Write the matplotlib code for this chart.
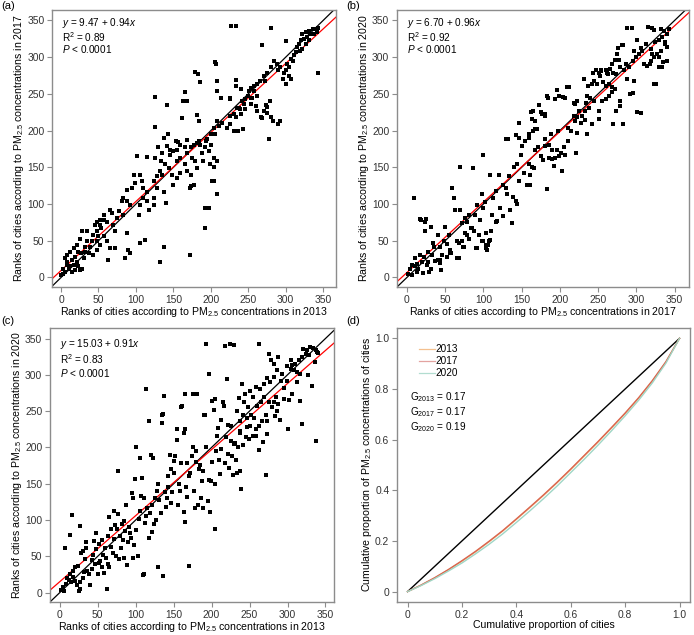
import matplotlib
matplotlib.use("Agg")
import matplotlib.pyplot as plt
import numpy as np

plt.rcParams['font.family'] = ['Liberation Sans', 'DejaVu Sans']
plt.rcParams['mathtext.fontset'] = 'custom'
plt.rcParams['mathtext.rm'] = 'Liberation Sans'
plt.rcParams['mathtext.it'] = 'Liberation Sans:italic'

# ---- panel (a): ranks 2013 vs 2017 ----
a_pts = [
    (0, 3), (2, 5), (3, 12), (5, 8), (5, 26), (8, 17), (8, 31), (8, 21), (10, 12), (12, 15), (12, 35),
    (14, 8), (14, 24), (17, 17), (17, 40), (19, 10), (19, 28), (21, 21), (21, 44), (23, 15), (23, 35),
    (25, 10), (25, 53), (27, 33), (28, 12), (28, 63), (30, 26), (32, 35), (32, 42), (34, 49), (34, 63),
    (37, 33), (39, 42), (41, 49), (43, 31), (43, 58), (46, 72), (48, 37), (48, 49), (48, 63), (48, 76),
    (50, 56), (52, 44), (52, 72), (52, 78), (54, 67), (57, 56), (57, 78), (57, 85), (61, 50), (61, 76),
    (63, 24), (66, 40), (66, 92), (68, 88), (70, 72), (72, 40), (72, 63), (75, 81), (77, 91), (81, 104),
    (83, 85), (83, 108), (86, 26), (88, 60), (88, 104), (88, 119), (90, 37), (92, 33), (92, 99), (95, 122),
    (97, 140), (99, 129), (101, 166), (104, 85), (105, 99), (106, 47), (106, 140), (108, 131), (110, 108),
    (110, 122), (112, 51), (115, 104), (115, 117), (115, 164), (117, 92), (124, 99), (124, 108), (124, 131),
    (126, 163), (126, 205), (126, 246), (128, 122), (128, 138), (130, 177), (132, 21), (132, 145), (133, 158),
    (135, 140), (135, 170), (137, 42), (137, 117), (137, 190), (139, 154), (140, 101), (141, 179), (141, 235),
    (144, 149), (146, 167), (148, 140), (150, 126), (150, 172), (154, 186), (155, 135), (155, 158), (159, 142),
    (159, 163), (159, 181), (163, 240), (165, 154), (165, 252), (168, 145), (168, 170), (168, 240), (172, 31),
    (172, 122), (173, 140), (173, 177), (174, 124), (175, 163), (177, 126), (177, 181), (179, 158), (179, 280),
    (182, 149), (182, 183), (183, 277), (184, 186), (185, 266), (186, 181), (188, 170), (190, 158), (192, 67),
    (192, 95), (192, 177), (193, 186), (195, 189), (197, 172), (198, 95), (199, 154), (200, 181), (200, 195),
    (202, 131), (204, 131), (204, 151), (204, 163), (204, 204), (205, 294), (206, 196), (207, 291), (208, 113),
    (208, 159), (208, 213), (208, 254), (208, 268), (211, 206), (213, 245), (215, 211), (222, 204), (225, 244),
    (226, 209), (226, 220), (227, 343), (231, 200), (231, 222), (233, 218), (233, 261), (234, 269), (234, 342),
    (236, 199), (238, 231), (240, 222), (240, 256), (241, 240), (243, 202), (244, 236), (246, 229), (246, 243),
    (249, 247), (251, 254), (253, 236), (253, 245), (253, 258), (258, 254), (258, 261), (260, 234), (262, 247),
    (262, 263), (266, 268), (268, 217), (268, 317), (271, 227), (271, 274), (273, 268), (275, 224), (275, 232),
    (275, 279), (278, 188), (280, 218), (281, 286), (281, 340), (283, 213), (284, 295), (288, 291), (290, 209),
    (290, 282), (292, 213), (293, 286), (296, 270), (298, 279), (300, 264), (300, 322), (301, 282), (302, 291),
    (304, 286), (305, 275), (307, 270), (307, 298), (310, 295), (311, 303), (314, 307), (315, 314), (318, 318),
    (319, 309), (320, 323), (322, 311), (322, 332), (324, 325), (327, 318), (327, 334), (329, 327), (331, 323),
    (331, 336), (333, 332), (336, 338), (338, 332), (340, 338), (342, 334), (343, 279), (343, 340),
    (161, 217), (182, 221), (184, 213), (143, 196), (168, 187), (156, 184), (145, 174), (155, 173), (165, 177),
    (226, 243), (235, 231), (239, 230), (255, 244), (261, 227), (267, 219), (274, 235), (279, 240),
]

# ---- panel (b): ranks 2017 vs 2020 ----
b_pts = [
    (2, 5), (4, 12), (7, 3), (7, 17), (9, 108), (10, 15), (11, 26), (13, 8), (13, 19), (15, 12), (17, 31),
    (19, 78), (20, 21), (22, 28), (23, 63), (24, 76), (26, 17), (28, 21), (28, 35), (29, 8), (31, 12), (33, 31),
    (35, 42), (37, 22), (40, 58), (43, 24), (44, 10), (46, 31), (48, 49), (50, 69), (52, 46), (55, 58), (56, 37),
    (57, 33), (59, 122), (61, 108), (63, 92), (65, 49), (68, 26), (69, 151), (70, 92), (72, 49), (72, 74),
    (74, 42), (76, 81), (79, 58), (81, 53), (81, 85), (84, 67), (85, 67), (87, 149), (89, 85), (90, 40),
    (92, 40), (92, 99), (94, 58), (96, 78), (98, 113), (99, 49), (99, 167), (100, 94), (102, 103), (104, 61),
    (105, 37), (106, 44), (108, 51), (109, 140), (111, 85), (113, 108), (116, 118), (118, 77), (120, 140),
    (122, 95), (125, 126), (129, 122), (131, 113), (132, 188), (133, 138), (135, 92), (137, 74), (139, 110),
    (140, 150), (143, 104), (144, 154), (146, 131), (146, 190), (149, 167), (151, 179), (153, 142), (155, 186),
    (157, 126), (159, 155), (159, 195), (161, 126), (161, 140), (163, 150), (164, 216), (165, 200), (165, 227),
    (166, 149), (168, 174), (168, 213), (170, 202), (172, 177), (175, 165), (175, 225), (178, 160), (180, 220),
    (181, 179), (181, 222), (183, 120), (183, 247), (186, 163), (186, 181), (188, 195), (190, 161), (190, 174),
    (192, 152), (194, 163), (194, 243), (196, 174), (196, 255), (199, 165), (199, 247), (201, 170), (203, 145),
    (205, 177), (207, 167), (207, 245), (210, 186), (212, 260), (215, 200), (218, 220), (220, 213), (220, 236),
    (221, 170), (222, 197), (222, 240), (223, 218), (225, 227), (227, 211), (229, 220), (233, 215), (233, 227),
    (234, 238), (236, 195), (236, 247), (238, 231), (240, 245), (242, 209), (242, 263), (244, 240), (244, 268),
    (247, 282), (249, 263), (251, 216), (251, 227), (251, 279), (253, 275), (254, 281), (255, 240), (256, 266),
    (260, 243), (260, 261), (260, 282), (263, 277), (264, 247), (264, 263), (266, 284), (268, 252), (268, 259),
    (268, 291), (270, 209), (270, 279), (272, 256), (272, 296), (274, 227), (275, 304), (276, 312), (277, 296),
    (278, 234), (279, 240), (279, 286), (281, 316), (282, 209), (284, 282), (286, 291), (288, 270), (294, 340),
    (295, 251), (295, 295), (297, 268), (299, 300), (301, 323), (303, 304), (306, 224), (306, 313), (308, 309),
    (310, 291), (312, 318), (314, 288), (319, 295), (319, 311), (320, 340), (321, 304), (323, 300), (323, 337),
    (325, 320), (326, 263), (327, 304), (330, 300), (330, 323), (332, 309), (332, 339), (333, 286), (334, 327),
    (336, 336), (337, 318), (338, 320), (340, 295), (340, 314), (340, 332), (343, 339),
    (21, 6), (41, 24), (43, 20), (52, 28), (56, 33), (65, 26), (73, 42), (68, 47), (103, 40), (104, 44),
    (107, 49), (98, 49), (78, 75), (88, 63), (110, 63), (116, 76), (126, 84), (138, 74), (144, 100), (76, 60),
    (43, 42), (34, 47), (32, 69), (24, 63), (17, 80), (25, 79),
    (162, 226), (146, 211), (173, 235), (176, 222), (185, 245), (209, 260), (204, 246), (219, 238), (232, 270),
    (237, 261), (243, 279), (254, 282), (262, 279), (228, 211), (211, 204), (198, 199), (181, 188), (167, 202),
    (159, 190), (130, 188), (142, 194), (292, 250), (301, 225), (323, 264), (329, 286), (318, 291), (335, 294),
    (283, 316), (297, 309), (290, 286), (273, 277), (288, 340), (315, 341),
]

# ---- panel (c): ranks 2013 vs 2020 ----
c_pts = [
    (2, 3), (4, 8), (5, 2), (7, 61), (8, 12), (10, 20), (12, 17), (13, 79), (14, 25), (15, 14), (16, 107),
    (17, 22), (18, 30), (20, 35), (20, 16), (22, 10), (24, 37), (25, 2), (26, 5), (26, 91), (27, 15), (28, 54),
    (30, 20), (30, 57), (32, 28), (33, 46), (34, 62), (35, 69), (36, 30), (38, 26), (40, 11), (42, 45), (43, 33),
    (44, 52), (45, 71), (46, 40), (48, 60), (48, 82), (50, 25), (51, 41), (52, 67), (53, 44), (55, 35), (56, 72),
    (57, 52), (58, 27), (60, 61), (61, 48), (62, 5), (63, 40), (64, 78), (65, 35), (65, 104), (67, 88), (68, 63),
    (70, 55), (71, 112), (72, 74), (73, 93), (74, 50), (75, 88), (76, 108), (77, 167), (78, 46), (79, 78),
    (80, 62), (82, 95), (83, 72), (84, 98), (85, 48), (86, 85), (87, 121), (88, 38), (90, 70), (91, 90), (92, 82),
    (94, 75), (95, 137), (96, 130), (97, 47), (98, 65), (99, 157), (100, 200), (101, 86), (103, 51), (104, 102),
    (105, 112), (106, 185), (107, 133), (108, 158), (110, 24), (111, 26), (111, 130), (112, 96), (113, 105),
    (114, 280), (115, 116), (117, 236), (118, 75), (119, 110), (120, 190), (121, 84), (122, 120), (123, 185),
    (124, 94), (125, 130), (127, 100), (128, 140), (130, 35), (130, 150), (131, 127), (133, 110), (134, 234),
    (135, 245), (136, 23), (136, 246), (137, 271), (138, 138), (140, 118), (141, 130), (142, 160), (143, 145),
    (145, 190), (146, 170), (147, 123), (148, 138), (150, 181), (151, 165), (152, 188), (154, 210), (155, 225),
    (156, 120), (157, 150), (158, 140), (159, 178), (160, 255), (161, 257), (163, 111), (164, 220), (165, 97),
    (165, 225), (165, 274), (166, 145), (167, 178), (168, 132), (170, 37), (170, 160), (172, 165), (174, 188),
    (175, 200), (176, 273), (177, 140), (178, 117), (179, 195), (180, 180), (181, 273), (182, 120), (183, 170),
    (185, 176), (186, 130), (187, 153), (188, 116), (189, 167), (190, 245), (191, 245), (192, 342), (193, 200),
    (195, 126), (196, 155), (197, 301), (198, 111), (199, 153), (200, 180), (201, 264), (203, 251), (204, 88),
    (204, 267), (205, 150), (206, 195), (207, 215), (208, 227), (210, 182), (211, 163), (212, 238), (213, 198),
    (215, 263), (216, 257), (217, 178), (218, 340), (219, 214), (220, 294), (221, 191), (222, 231), (223, 172),
    (224, 343), (225, 209), (226, 230), (227, 188), (228, 162), (229, 341), (230, 204), (231, 206), (232, 183),
    (233, 165), (234, 250), (235, 200), (236, 268), (237, 222), (238, 167), (238, 220), (238, 236), (239, 143),
    (240, 288), (241, 245), (242, 203), (243, 262), (244, 274), (245, 214), (246, 228), (247, 241), (248, 255),
    (249, 211), (250, 230), (251, 278), (252, 245), (254, 216), (255, 269), (256, 240), (258, 216), (258, 283),
    (259, 225), (260, 257), (262, 196), (262, 229), (263, 342), (264, 281), (265, 262), (266, 236), (268, 207),
    (269, 269), (269, 288), (271, 162), (272, 245), (273, 218), (273, 236), (273, 295), (275, 263), (276, 329),
    (277, 290), (278, 320), (280, 255), (282, 263), (282, 297), (282, 315), (283, 243), (285, 270), (286, 250),
    (286, 306), (288, 260), (288, 325), (290, 238), (291, 292), (293, 301), (295, 267), (296, 282), (299, 292),
    (299, 312), (301, 225), (302, 265), (304, 308), (304, 320), (306, 274), (306, 313), (308, 306), (310, 315),
    (312, 290), (313, 304), (315, 320), (317, 264), (317, 301), (319, 232), (319, 325), (321, 336), (324, 329),
    (326, 334), (327, 300), (328, 327), (330, 338), (332, 285), (334, 337), (336, 318), (337, 334), (338, 209),
    (339, 331), (340, 330),
]

# regression fits shown in the panels (intercept, slope, R2)
fits = [(9.47, 0.94, '0.89'), (6.70, 0.96, '0.92'), (15.03, 0.91, '0.83')]
xyears = ['2013', '2017', '2013']
yyears = ['2017', '2020', '2020']

# ---- panel (d): Lorenz curves ----
lorenz_x = [0.0, 0.05, 0.1, 0.15, 0.2, 0.25, 0.3, 0.35, 0.4, 0.45, 0.5,
            0.55, 0.6, 0.65, 0.7, 0.75, 0.8, 0.85, 0.9, 0.95, 1.0]
lorenz_2013 = [0.0, 0.025, 0.054, 0.086, 0.120, 0.157, 0.197, 0.239, 0.285, 0.332, 0.380,
               0.430, 0.482, 0.536, 0.590, 0.646, 0.703, 0.764, 0.831, 0.906, 1.0]
lorenz_2017 = [0.0, 0.026, 0.055, 0.087, 0.122, 0.159, 0.199, 0.241, 0.287, 0.334, 0.382,
               0.432, 0.484, 0.538, 0.592, 0.648, 0.705, 0.766, 0.833, 0.908, 1.0]
lorenz_2020 = [0.0, 0.024, 0.051, 0.081, 0.113, 0.149, 0.187, 0.228, 0.273, 0.319, 0.367,
               0.417, 0.470, 0.523, 0.578, 0.635, 0.694, 0.756, 0.824, 0.902, 1.0]
gini = [('2013', '0.17'), ('2017', '0.17'), ('2020', '0.19')]
lorenz_colors = ['#F2B47C', '#D9654F', '#9FD6C6']
legend_colors = ['#F4C08F', '#E3A3A0', '#B2DDD0']

SPINE = '#8c8c8c'
TICKC = '#333333'
LABEL_FS = 7.6
TICK_FS = 7.4
NOTE_FS = 7.2

fig = plt.figure(figsize=(6.94, 6.35), dpi=100)
boxes = [
    [0.075, 0.548, 0.409, 0.436],
    [0.572, 0.548, 0.421, 0.436],
    [0.072, 0.052, 0.409, 0.4315],
    [0.572, 0.052, 0.422, 0.4315],
]
lims = [
    ((-12, 367), (-13, 364)),
    ((-13, 369), (-13, 364)),
    ((-13, 361), (-13, 364.5)),
]
# vertical positions (axes fraction) of the three annotation lines
note_y = [
    (0.952, 0.904, 0.858),
    (0.952, 0.904, 0.858),
    (0.943, 0.887, 0.834),
]


def style_axes(ax):
    for s in ax.spines.values():
        s.set_color(SPINE)
        s.set_linewidth(1.0)
    ax.tick_params(direction='out', length=3.5, width=0.8, color=SPINE,
                   labelcolor=TICKC, labelsize=TICK_FS, pad=2)


axes = [fig.add_axes(b) for b in boxes]
for i, pts in enumerate([a_pts, b_pts, c_pts]):
    ax = axes[i]
    arr = np.array(pts)
    ax.scatter(arr[:, 0], arr[:, 1], s=6, marker='s', color='black', linewidths=0, zorder=3)
    ax.axline((0, 0), slope=1, color='black', lw=0.9, zorder=2)
    b0, b1, r2 = fits[i]
    ax.axline((0, b0), slope=b1, color='red', lw=0.9, zorder=2)
    ax.set_xlim(*lims[i][0])
    ax.set_ylim(*lims[i][1])
    ax.set_xticks(np.arange(0, 351, 50))
    ax.set_yticks(np.arange(0, 351, 50))
    style_axes(ax)
    ax.set_xlabel('Ranks of cities according to PM$_{2.5}$ concentrations in ' + xyears[i],
                  fontsize=LABEL_FS, labelpad=0.5)
    ax.set_ylabel('Ranks of cities according to PM$_{2.5}$ concentrations in ' + yyears[i],
                  fontsize=LABEL_FS, labelpad=0.5)
    lines = ['$y$ = %.2f + %.2f$x$' % (b0, b1), 'R$^2$ = %s' % r2, '$P$ < 0.0001']
    for line, yy in zip(lines, note_y[i]):
        ax.text(0.034, yy, line, transform=ax.transAxes, ha='left', va='center',
                fontsize=NOTE_FS)

ax = axes[3]
ax.plot([0, 1], [0, 1], color='black', lw=1.0)
for yr, ys, c in zip(['2013', '2017', '2020'], [lorenz_2013, lorenz_2017, lorenz_2020], lorenz_colors):
    ax.plot(lorenz_x, ys, color=c, lw=1.0, label=yr)
ax.set_xlim(-0.039, 1.038)
ax.set_ylim(-0.041, 1.041)
ax.set_xticks([0, 0.2, 0.4, 0.6, 0.8, 1.0])
ax.set_xticklabels(['0', '0.2', '0.4', '0.6', '0.8', '1.0'])
ax.set_yticks([0, 0.2, 0.4, 0.6, 0.8, 1.0])
ax.set_yticklabels(['0', '0.2', '0.4', '0.6', '0.8', '1.0'])
style_axes(ax)
ax.set_xlabel('Cumulative proportion of cities', fontsize=LABEL_FS, labelpad=0.5)
ax.set_ylabel('Cumulative proportion of PM$_{2.5}$ concentrations of cities',
              fontsize=LABEL_FS, labelpad=0.5)
leg = ax.legend(loc='upper left', bbox_to_anchor=(0.06, 0.955), frameon=False, fontsize=NOTE_FS,
                handlelength=1.6, handletextpad=0.1, labelspacing=0.2, borderaxespad=0)
for h, c in zip(leg.legend_handles, legend_colors):
    h.set_linewidth(0.9)
    h.set_color(c)
for (yr, g), yy in zip(gini, (0.748, 0.693, 0.639)):
    ax.text(0.045, yy, 'G$_{%s}$ = %s' % (yr, g), transform=ax.transAxes, ha='left', va='center',
            fontsize=NOTE_FS)

for lab, (x, y) in zip(['(a)', '(b)', '(c)', '(d)'],
                       [(0.002, 0.998), (0.499, 0.998), (0.002, 0.502), (0.499, 0.502)]):
    fig.text(x, y, lab, ha='left', va='top', fontsize=8)

fig.savefig('out.png', dpi=100)
